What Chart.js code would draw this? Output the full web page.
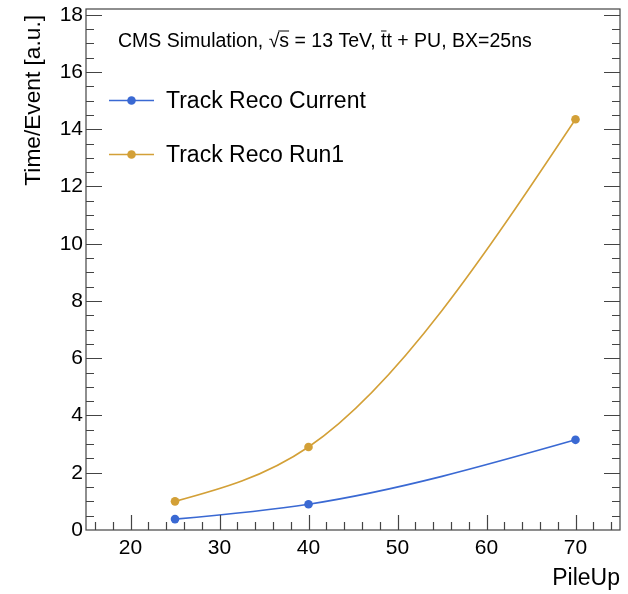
<!DOCTYPE html>
<html>
<head>
<meta charset="utf-8">
<script src="https://cdn.jsdelivr.net/npm/chart.js@4.4.1/dist/chart.umd.min.js"></script>
<style>
  html, body { margin: 0; padding: 0; background: #fff; }
  canvas { display: block; }
</style>
</head>
<body>
<canvas id="chart" width="628" height="594"></canvas>
<script>
// pile-up points and timing per event (arbitrary units)
const pileUp = [25, 40, 70];
const recoCurrent = [0.38, 0.9, 3.15];
const recoRun1 = [1.0, 2.9, 14.35];

const seriesNames = ['Track Reco Current', 'Track Reco Run1'];
const seriesColors = ['#3a69d3', '#d3a037'];

const xTicks = [20, 30, 40, 50, 60, 70];
const yTicks = [0, 2, 4, 6, 8, 10, 12, 14, 16, 18];

const FONT = '"Liberation Sans", Arial, Helvetica, sans-serif';
const AXIS = '#444';

// natural cubic spline through each line's points, passed to the line element as bezier handles
const naturalSpline = {
    id: 'naturalSpline',
    beforeDatasetsDraw(chart) {
        chart.getSortedVisibleDatasetMetas().forEach((meta) => {
            const pts = meta.data;
            const n = pts.length;
            if (n < 3) return;
            const h = [], d = [];
            for (let i = 0; i < n - 1; i++) {
                h[i] = pts[i + 1].x - pts[i].x;
                d[i] = (pts[i + 1].y - pts[i].y) / h[i];
            }
            // second derivatives, zero at both ends (Thomas algorithm)
            const M = new Array(n).fill(0);
            const cp = [], rp = [];
            for (let i = 1; i < n - 1; i++) {
                const a = h[i - 1], b = 2 * (h[i - 1] + h[i]), c = h[i];
                const r = 6 * (d[i] - d[i - 1]);
                const den = b - (i > 1 ? a * cp[i - 1] : 0);
                cp[i] = c / den;
                rp[i] = (r - (i > 1 ? a * rp[i - 1] : 0)) / den;
            }
            for (let i = n - 2; i >= 1; i--) {
                M[i] = rp[i] - (i < n - 2 ? cp[i] * M[i + 1] : 0);
            }
            for (let i = 0; i < n; i++) {
                const p = pts[i];
                const m = i < n - 1
                    ? d[i] - h[i] * (2 * M[i] + M[i + 1]) / 6
                    : d[n - 2] + h[n - 2] * (M[n - 2] + 2 * M[n - 1]) / 6;
                const hl = i > 0 ? h[i - 1] / 3 : 0;
                const hr = i < n - 1 ? h[i] / 3 : 0;
                p.cp1x = p.x - hl; p.cp1y = p.y - m * hl;
                p.cp2x = p.x + hr; p.cp2y = p.y + m * hr;
            }
            meta.dataset._pointsUpdated = true;
            meta.dataset._path = undefined;
        });
    }
};

// ROOT-style frame with inward ticks, legend and labels
const rootStyle = {
    id: 'rootStyle',
    afterDraw(chart) {
        const ctx = chart.ctx;
        const a = chart.chartArea;
        const xs = chart.scales.x;
        const ys = chart.scales.y;

        ctx.save();
        ctx.strokeStyle = AXIS;
        ctx.lineWidth = 1.2;
        ctx.strokeRect(a.left, a.top, a.right - a.left, a.bottom - a.top);

        // x ticks: major every 10, minor every 2
        ctx.beginPath();
        for (let v = 16; v <= 74; v += 2) {
            const px = Math.round(xs.getPixelForValue(v)) + 0.5;
            const len = (v % 10 === 0) ? 15 : 8;
            ctx.moveTo(px, a.bottom);
            ctx.lineTo(px, a.bottom - len);
        }
        // y ticks on both sides: major every 2, minor every 0.5
        for (let i = 1; i <= 36; i++) {
            const v = i * 0.5;
            const py = Math.round(ys.getPixelForValue(v)) + 0.5;
            const len = (i % 4 === 0) ? 16 : 8;
            ctx.moveTo(a.left, py);
            ctx.lineTo(a.left + len, py);
            ctx.moveTo(a.right, py);
            ctx.lineTo(a.right - len, py);
        }
        ctx.stroke();

        // axis titles
        ctx.fillStyle = '#000';
        ctx.font = '23px ' + FONT;
        ctx.textAlign = 'right';
        ctx.textBaseline = 'alphabetic';
        ctx.fillText('PileUp', a.right, 585);

        ctx.save();
        ctx.translate(40, 15);
        ctx.rotate(-Math.PI / 2);
        ctx.font = '22.7px ' + FONT;
        ctx.textAlign = 'right';
        ctx.fillText('Time/Event [a.u.]', 0, 0);
        ctx.restore();

        // header text with overlines on s and the first t
        ctx.font = '19.5px ' + FONT;
        ctx.textAlign = 'left';
        let x = 118;
        const y = 47;
        const put = (s) => { ctx.fillText(s, x, y); x += ctx.measureText(s).width; };
        const bar = (x0, x1, yy) => {
            ctx.beginPath();
            ctx.lineWidth = 1;
            ctx.strokeStyle = '#000';
            ctx.moveTo(x0, yy);
            ctx.lineTo(x1, yy);
            ctx.stroke();
        };
        put('CMS Simulation, ');
        put('\u221A');
        const sx = x;
        put('s');
        bar(sx - 1, x, y - 16);
        put(' = 13 TeV, ');
        const tx = x;
        put('t');
        bar(tx, x, y - 16);
        put('t + PU, BX=25ns');

        // legend
        ctx.font = '23px ' + FONT;
        ctx.textBaseline = 'middle';
        [100.5, 154.5].forEach((ly, i) => {
            ctx.strokeStyle = seriesColors[i];
            ctx.lineWidth = 1.6;
            ctx.beginPath();
            ctx.moveTo(109, ly);
            ctx.lineTo(154, ly);
            ctx.stroke();
            ctx.fillStyle = seriesColors[i];
            ctx.beginPath();
            ctx.arc(131.5, ly, 4.3, 0, Math.PI * 2);
            ctx.fill();
            ctx.fillStyle = '#000';
            ctx.fillText(seriesNames[i], 166, ly + 1);
        });
        ctx.restore();
    }
};

const toPoints = (ys) => pileUp.map((x, i) => ({ x: x, y: ys[i] }));

new Chart(document.getElementById('chart'), {
    type: 'line',
    data: {
        datasets: [recoCurrent, recoRun1].map((vals, i) => ({
            label: seriesNames[i],
            data: toPoints(vals),
            borderColor: seriesColors[i],
            backgroundColor: seriesColors[i],
            borderWidth: 1.6,
            pointRadius: 4.3,
            pointBorderWidth: 0,
            cubicInterpolationMode: 'monotone',
            fill: false
        }))
    },
    options: {
        responsive: false,
        animation: false,
        devicePixelRatio: 1,
        layout: { padding: { top: 9, right: 8, left: 0, bottom: 0 } },
        plugins: {
            legend: { display: false },
            tooltip: { enabled: false }
        },
        scales: {
            x: {
                type: 'linear',
                min: 15,
                max: 75,
                afterBuildTicks: (s) => { s.ticks = xTicks.map(v => ({ value: v })); },
                afterFit: (s) => { s.height = 64; s.paddingLeft = 0; s.paddingRight = 0; },
                grid: { display: false, drawTicks: false },
                border: { display: false },
                ticks: { color: '#000', font: { family: FONT, size: 21 }, padding: 6, maxRotation: 0 }
            },
            y: {
                type: 'linear',
                min: 0,
                max: 18.2,
                afterBuildTicks: (s) => { s.ticks = yTicks.map(v => ({ value: v })); },
                afterFit: (s) => { s.width = 86; s.paddingTop = 0; s.paddingBottom = 0; },
                grid: { display: false, drawTicks: false },
                border: { display: false },
                ticks: { color: '#000', font: { family: FONT, size: 21 }, padding: 3 }
            }
        }
    },
    plugins: [naturalSpline, rootStyle]
});
</script>
</body>
</html>
